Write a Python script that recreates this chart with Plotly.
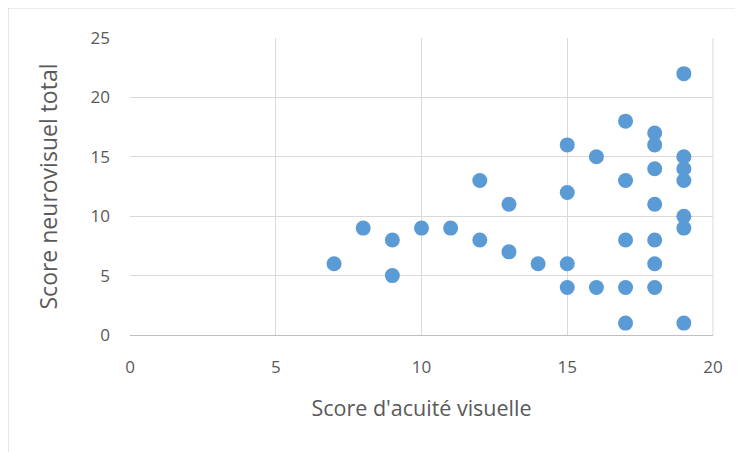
import plotly.graph_objects as go

acuite = [7, 8, 9, 9, 10, 11, 12, 12, 13, 13, 14, 15, 15, 15, 15, 16, 16,
          17, 17, 17, 17, 17, 18, 18, 18, 18, 18, 18, 18, 19, 19, 19, 19, 19, 19, 19]
neuro = [6, 9, 8, 5, 9, 9, 13, 8, 11, 7, 6, 16, 12, 6, 4, 15, 4,
         18, 13, 8, 4, 1, 17, 16, 14, 11, 8, 6, 4, 22, 15, 14, 13, 10, 9, 1]

x_ticks = [0, 5, 10, 15, 20]
y_ticks = [0, 5, 10, 15, 20, 25]

font_family = "Open Sans, Liberation Sans, sans-serif"
grey = "#595959"

fig = go.Figure(go.Scatter(
    x=acuite, y=neuro, mode="markers",
    marker=dict(size=15, color="#5B9BD5", line=dict(width=0)),
    hoverinfo="x+y",
))

fig.update_layout(
    width=743, height=452,
    margin=dict(l=122, r=38, t=30, b=125),
    paper_bgcolor="white", plot_bgcolor="white",
    showlegend=False,
    font=dict(family=font_family, color=grey, size=16),
    xaxis=dict(
        range=[0, 20], tickvals=x_ticks, showgrid=True, gridcolor="#D9D9D9",
        gridwidth=1, zeroline=False, showline=True, linecolor="#BFBFBF",
        mirror=False, ticks="", ticklabelstandoff=17,
        tickfont=dict(size=17, color=grey),
        title=dict(text="Score d'acuité visuelle", font=dict(size=21.5, color=grey), standoff=23),
    ),
    yaxis=dict(
        range=[0, 25], tickvals=y_ticks, showgrid=True, gridcolor="#D9D9D9",
        gridwidth=1, zeroline=False, showline=False, ticks="", ticklabelstandoff=19,
        tickfont=dict(size=17, color=grey),
        title=dict(text="Score neurovisuel total", font=dict(size=23, color=grey), standoff=26),
    ),
    shapes=[
        dict(type="line", xref="paper", yref="paper", x0=1, x1=1, y0=0, y1=1,
             line=dict(color="#D9D9D9", width=1)),
        dict(type="rect", xref="paper", yref="paper", x0=-0.209, x1=1.2, y0=-0.5, y1=1.101,
             line=dict(color="#D9D9D9", width=1), layer="below"),
    ],
)

fig.write_html("out.html")
